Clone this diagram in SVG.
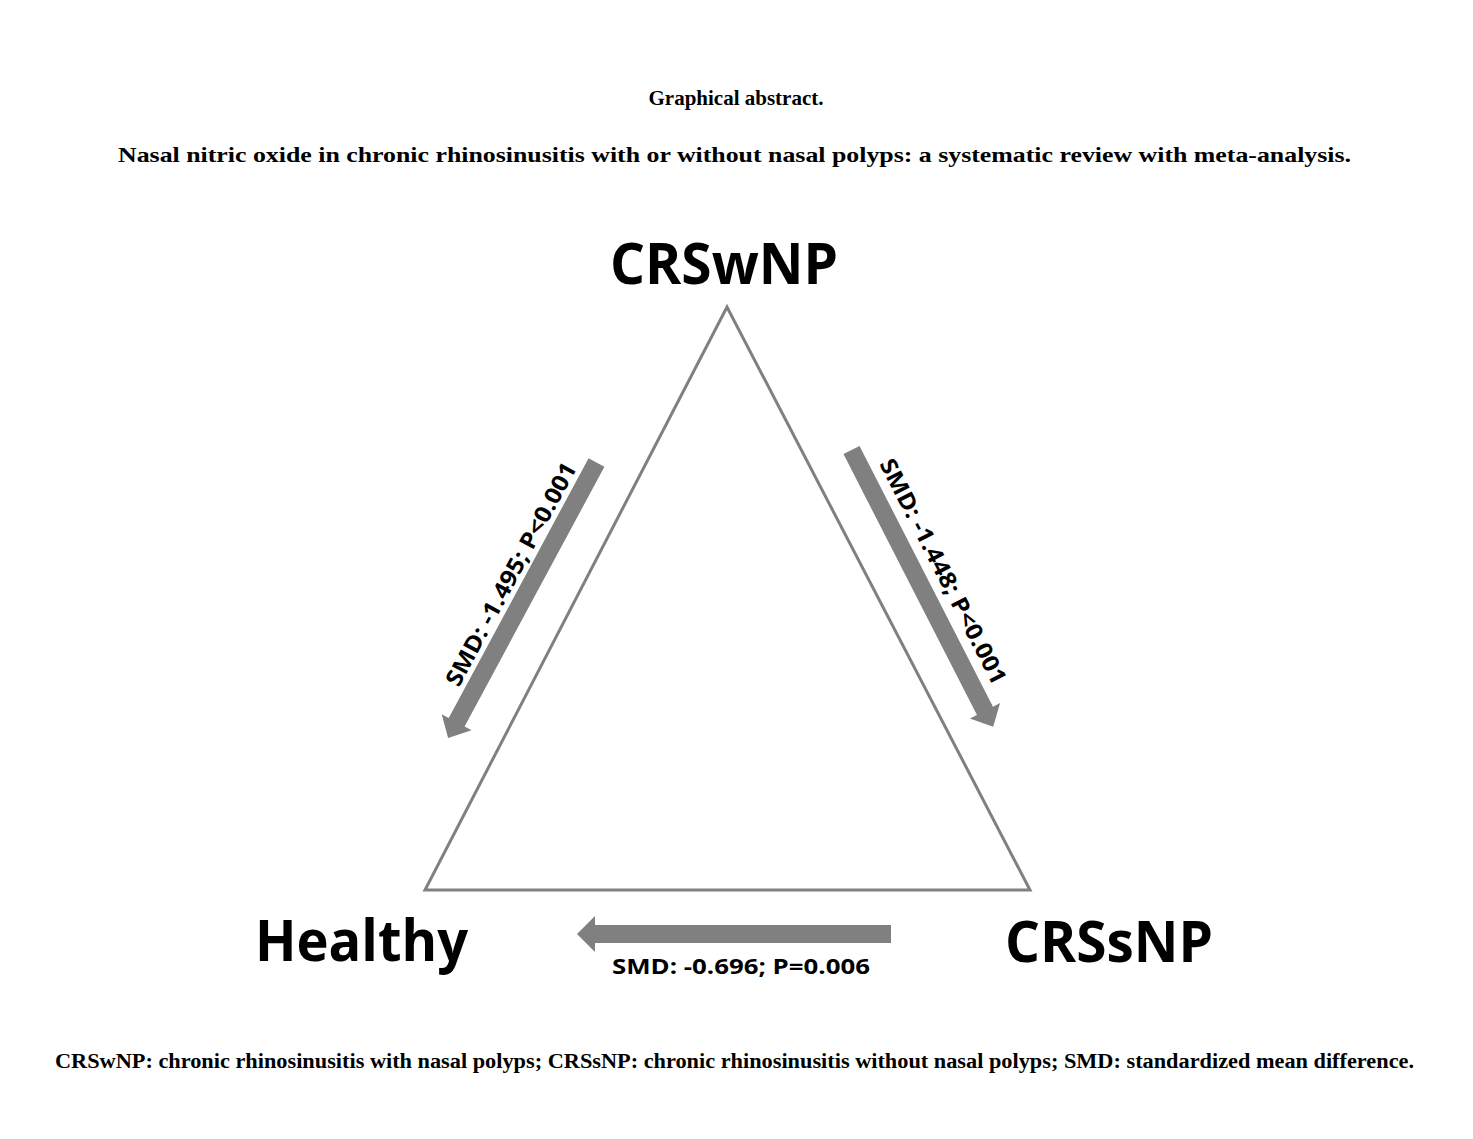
<svg xmlns="http://www.w3.org/2000/svg" width="1473" height="1139" viewBox="0 0 1473 1139">
<style>
.t{font-family:"Liberation Serif","Times New Roman",serif;font-weight:bold;font-size:21px;fill:#000}
.big{font-family:"Open Sans","Noto Sans",sans-serif;font-weight:bold;font-size:57px;fill:#000}
.lab{font-family:"Open Sans","Noto Sans",sans-serif;font-weight:bold;font-size:23px;fill:#000}
.arr{fill:#808080}
</style>
<defs>
<polygon id="a313" points="0,-9 295,-9 295,-17 313,0 295,17 295,9 0,9"/>
<polygon id="a311" points="0,-9 293,-9 293,-17 311,0 293,17 293,9 0,9"/>
<polygon id="a314" points="0,-9 296,-9 296,-18 314,0 296,18 296,9 0,9"/>
</defs>
<rect width="1473" height="1139" fill="#fff"/>
<text class="t" x="736" y="105" text-anchor="middle">Graphical abstract.</text>
<text class="t" x="118" y="162" textLength="1233" lengthAdjust="spacingAndGlyphs">Nasal nitric oxide in chronic rhinosinusitis with or without nasal polyps: a systematic review with meta-analysis.</text>
<g id="triangle">
<polygon points="727,307 425,890 1030,890" fill="none" stroke="#808080" stroke-width="3"/>
</g>
<g id="node-crswnp"><text class="big" x="610" y="284" textLength="228" lengthAdjust="spacingAndGlyphs">CRSwNP</text></g>
<g id="node-healthy"><text class="big" x="255" y="961" textLength="213" lengthAdjust="spacingAndGlyphs">Healthy</text></g>
<g id="node-crssnp"><text class="big" x="1005" y="962" textLength="208" lengthAdjust="spacingAndGlyphs">CRSsNP</text></g>
<g id="connectors">
<use href="#a313" class="arr" transform="translate(596.5,462.5) rotate(118.3)"/>
<use href="#a311" class="arr" transform="translate(851.5,450) rotate(62.9)"/>
<use href="#a314" class="arr" transform="translate(891,934) rotate(180)"/>
<text class="lab" text-anchor="middle" transform="translate(518,578) rotate(-61.7)" textLength="250" lengthAdjust="spacingAndGlyphs">SMD: -1.495; P&lt;0.001</text>
<text class="lab" text-anchor="middle" transform="translate(936,575) rotate(62.9)" textLength="250" lengthAdjust="spacingAndGlyphs">SMD: -1.448; P&lt;0.001</text>
<text class="lab" x="612" y="974" textLength="258" lengthAdjust="spacingAndGlyphs" style="font-size:22px">SMD: -0.696; P=0.006</text>
</g>
<text class="t" x="55" y="1068" textLength="1359" lengthAdjust="spacingAndGlyphs" style="font-size:20px">CRSwNP: chronic rhinosinusitis with nasal polyps; CRSsNP: chronic rhinosinusitis without nasal polyps; SMD: standardized mean difference.</text>
</svg>
